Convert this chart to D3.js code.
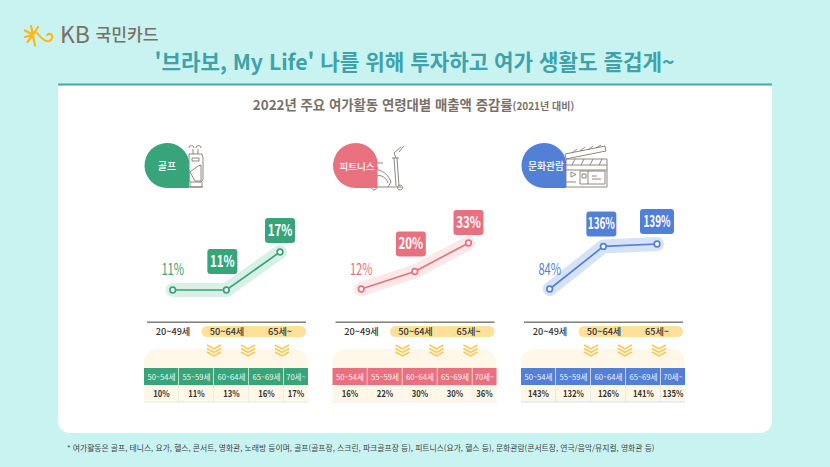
<!DOCTYPE html>
<html lang="ko"><head><meta charset="utf-8">
<script src="https://cdn.jsdelivr.net/npm/d3@7"></script>
<style>html,body{margin:0;padding:0;background:#c9f3f1;overflow:hidden}svg{display:block}text{font-family:"Noto Sans CJK KR","Noto Sans",sans-serif}</style>
</head><body><svg id="c" width="830" height="467"></svg>
<script>
const mainTitle = "'브라보, My Life' 나를 위해 투자하고 여가 생활도 즐겁게~";
const subTitle = "2022년 주요 여가활동 연령대별 매출액 증감률";
const subNote = "(2021년 대비)";
const footNote = "* 여가활동은 골프, 테니스, 요가, 헬스, 콘서트, 영화관, 노래방 등이며, 골프(골프장, 스크린, 파크골프장 등), 피트니스(요가, 헬스 등), 문화관람(콘서트장, 연극/음악/뮤지컬, 영화관 등)";
const activities = ["골프","피트니스","문화관람"];
const ageGroups = ["20~49세","50~64세","65세~"];
const ageBands = ["50~54세","55~59세","60~64세","65~69세","70세~"];
const golfValues = [11,11,17];
const fitnessValues = [12,20,33];
const cultureValues = [84,136,139];
const golfBand = [10,11,13,16,17];
const fitnessBand = [16,22,30,30,36];
const cultureBand = [143,132,126,141,135];
const colors = ["#37a47a","#e9717f","#5280d6"];
const halos = ["#d9f0e6","#fbe9ea","#d6e2f6"];
const panelOffsets = [0,188.5,377];
const seriesList = [golfValues,fitnessValues,cultureValues];
const bandList = [golfBand,fitnessBand,cultureBand];
const yDomains = [[11,17],[12,33],[84,139]];
const yRanges = [[290,252],[289,243],[289,244]];

const svg = d3.select("#c");
svg.append("rect").attr("width",830).attr("height",467).attr("fill","#c9f3f1");
svg.append("path").attr("d","M58 85H772V421a12 12 0 0 1-12 12H70a12 12 0 0 1-12-12Z").attr("fill","#fff");
svg.append("rect").attr("x",58).attr("y",83.5).attr("width",714).attr("height",2).attr("fill","#3fa9ad");
// logo
const logo = svg.append("g").attr("stroke","#fdb813").attr("fill","none").attr("stroke-linecap","round");
logo.append("path").attr("stroke-width",2.2).attr("d","M25 37L33 35L31 26M33 35L25 30.500M33 35L38 27M33 35L35 45.500M33 35L27.500 42");
logo.append("path").attr("stroke-width",2).attr("d","M37 33C41 38 47 44 51 40C54 36 51 32 47 35");
svg.append("text").attr("x",60).attr("y",43).attr("font-size",22.500).attr("fill","#7a7068").attr("font-family","Liberation Sans").attr("textLength",30).attr("lengthAdjust","spacingAndGlyphs").text("KB");
svg.append("text").attr("x",95.500).attr("y",41).attr("font-size",17.500).attr("font-weight",500).attr("fill","#7a7068").attr("textLength",63).attr("lengthAdjust","spacingAndGlyphs").text("국민카드");
// titles
svg.append("text").attr("x",414.500).attr("y",69.500).attr("text-anchor","middle").attr("font-size",21.200).attr("font-weight",700).attr("fill","#3da2a9").text(mainTitle);
const st = svg.append("text").attr("x",413.500).attr("y",110).attr("text-anchor","middle").attr("font-size",13.400).attr("font-weight",700).attr("fill","#7a7068");
st.append("tspan").text(subTitle);
st.append("tspan").attr("font-size",10).text(subNote);
svg.append("text").attr("x",67).attr("y",451).attr("font-size",7.800).attr("fill","#444").text(footNote);

const colEdges = [144,179,214,249,284,308];
const icons = [
 g=>{ // golf bag
  g.append("path").attr("d","M189 154h13l1 4v22l-2 2h-11l-1-2Z M190 182v5h12v-5 M181 187h22 M184 170h5v12h-5l-2-4v-4Z M193 154v-5M198 154v-5 M189 148a2.500 2.500 0 1 1 5 0M196 148a2.500 2.500 0 1 1 5 0 M192 158h7v3h-7Z M190 172l8-6 3-1v16h-6Z");
 },
 g=>{ // bike
  g.append("path").attr("d","M373 163h10M376 164l2 6c6 1 11 6 13 12l-3 5 M377 176c3-2 10 2 11 7M375 187h27 M396 186l-2-28 M399 186l-2-28 M392 158h7 M396 158l-2-5 7-6 M399 152l5-6 M374 185a2.500 2.500 0 1 0 .1 0 M400 185a2.500 2.500 0 1 0 .1 0");
 },
 g=>{ // clapper
  g.append("path").attr("d","M566 159h41v28h-41Z M566 165h41 M566 170h41 M566 159l-1-5 40-8 1 5Z M572 153l5-4M580 151l5-4M588 150l5-4M596 148l5-3 M572 165l3-6M581 165l3-6M590 165l3-6M599 165l3-6 M580 171h25v13h-25Z M588 171v13 M571 172v5l5-2.500Z M592 176h5M592 179h9M582 174h4v4h-4Z M566 182h10");
 }
];

activities.forEach((name,i)=>{
  const dx = panelOffsets[i], col = colors[i];
  const g = svg.append("g");
  const ic = g.append("g").attr("fill","none").attr("stroke","#85796f").attr("stroke-width",.9);
  icons[i](ic);
  // badge
  const cx = 167+dx;
  g.append("path").attr("d",`M${cx} 143a22.500 22.500 0 0 1 22 18V188H${cx}a22.500 22.500 0 0 1 0-45Z`).attr("fill",col);
  g.append("text").attr("x",[167,357,546][i]).attr("y",169.500).attr("text-anchor","middle").attr("font-size",i==0?10:i==1?9.500:9.800).attr("font-weight",500).attr("fill","#fff").text(name);

  // line chart
  const x = d3.scalePoint().domain(ageGroups).range([172.700+dx,280+dx]);
  const y = d3.scaleLinear().domain(yDomains[i]).range(yRanges[i]);
  const data = seriesList[i].map((v,k)=>({age:ageGroups[k],v}));
  const line = d3.line().x(d=>x(d.age)).y(d=>y(d.v));
  g.append("path").datum(data).attr("d",line).attr("fill","none").attr("stroke",halos[i]).attr("stroke-width",14).attr("stroke-linecap","round").attr("stroke-linejoin","round");
  g.append("path").datum(data).attr("d",line).attr("fill","none").attr("stroke",col).attr("stroke-width",1.700);
  g.selectAll("circle.pt").data(data).join("circle").attr("class","pt").attr("cx",d=>x(d.age)).attr("cy",d=>y(d.v)).attr("r",2.800).attr("fill","#fff").attr("stroke",col).attr("stroke-width",1.700);
  data.forEach((d,k)=>{
    const px=x(d.age), py=y(d.v);
    if(k===0){
      g.append("text").attr("text-anchor","middle").attr("font-size",15.500).attr("font-weight",400).attr("fill",col)
        .attr("transform",`translate(${px},${274.500}) scale(.72,1)`).text(d.v+"%");
    } else {
      const offs=[[0,16,9],[0,15,8],[0,10,10]][i][k];
      const cxx = px-(k===1?(i===2?2:4):0);
      const wid = (i===2&&k===2)?34:30;
      g.append("rect").attr("x",cxx-wid/2).attr("y",py-offs-25).attr("width",wid).attr("height",25).attr("rx",3).attr("fill",col);
      g.append("text").attr("text-anchor","middle").attr("font-size",16).attr("font-weight",700).attr("fill","#fff")
        .attr("transform",`translate(${cxx},${py-offs-7}) scale(${seriesList[i][k]>99?.62:.72},1)`).text(d.v+"%");
    }
  });

  g.append("rect").attr("x",147+dx).attr("y",321.500).attr("width",159).attr("height",1.400).attr("fill","#77736f");
  g.append("rect").attr("x",201.500+dx).attr("y",326).attr("width",104.500).attr("height",11).attr("rx",5.500).attr("fill","#fde09a");
  ageGroups.forEach((a,k)=>{
    g.append("text").attr("x",[173,227,280][k]+dx).attr("y",335).attr("text-anchor","middle").attr("font-size",9.200).attr("font-weight",500).attr("fill","#333").text(a);
  });
  g.append("path").attr("d",`M${144+dx} 402V363a14 14 0 0 1 14-14H${294+dx}a14 14 0 0 1 14 14V402Z`).attr("fill","#fff8e9");
  [214,248,282].forEach(cxv=>{
    [345,348.500,352].forEach(yy=>{
      g.append("path").attr("d",`M${cxv-7+dx} ${yy}L${cxv+dx} ${yy+4}L${cxv+7+dx} ${yy}`).attr("fill","none").attr("stroke","#fcc64f").attr("stroke-width",1.500);
    });
  });
  ageBands.forEach((b,k)=>{
    const x0=colEdges[k]+dx,x1=colEdges[k+1]+dx,w=x1-x0;
    g.append("rect").attr("x",x0).attr("y",368).attr("width",w-(k<4?.7:0)).attr("height",17).attr("fill",col);
    g.append("text").attr("x",x0+w/2).attr("y",379.500).attr("text-anchor","middle").attr("font-size",7.600).attr("fill","#fff").attr("opacity",.9).text(b);
    g.append("text").attr("text-anchor","middle").attr("font-size",9.400).attr("font-weight",700).attr("fill","#333")
      .attr("transform",`translate(${x0+w/2},397) scale(.82,1)`).text(bandList[i][k]+"%");
    if(k<4) g.append("rect").attr("x",x1-.7).attr("y",385).attr("width",.7).attr("height",17).attr("fill",halos[i]);
  });
  g.append("rect").attr("x",144+dx).attr("y",401.500).attr("width",164).attr("height",1).attr("fill",halos[i]);
});
</script></body></html>
